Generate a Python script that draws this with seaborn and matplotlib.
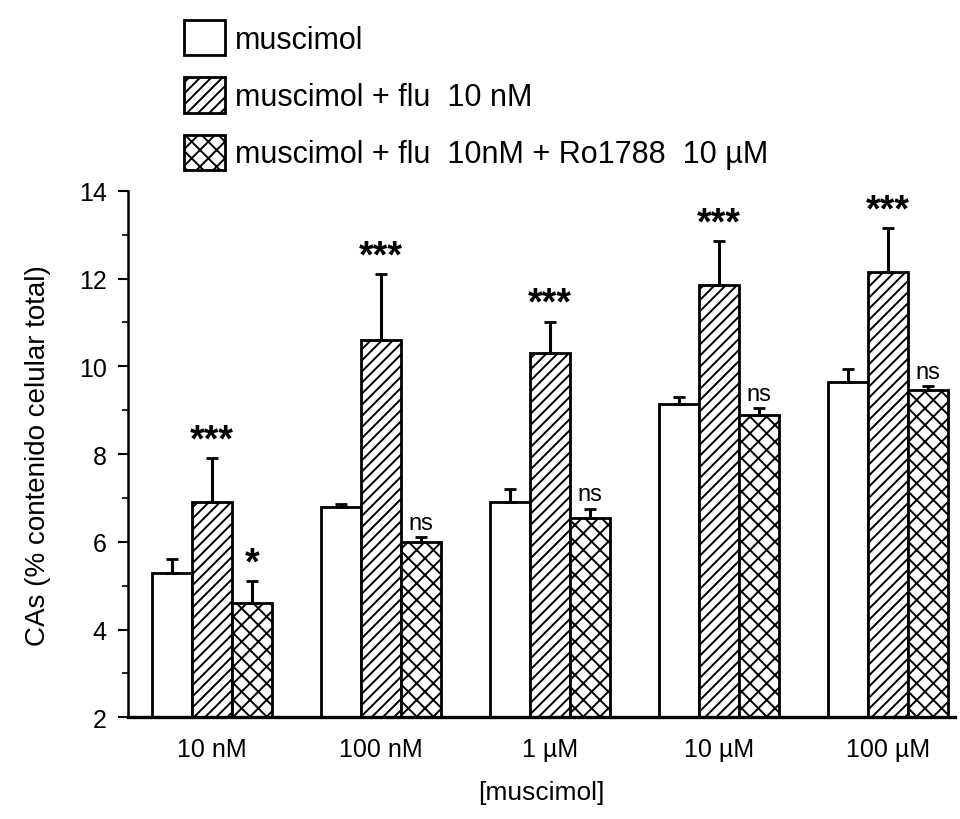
import pandas as pd
import matplotlib.pyplot as plt
import seaborn as sns
from matplotlib.patches import Patch
from matplotlib.ticker import MultipleLocator

doses = ['10 nM', '100 nM', '1 µM', '10 µM', '100 µM']
groups = ['muscimol', 'muscimol + flu  10 nM', 'muscimol + flu  10nM + Ro1788  10 µM']
musc = [5.3, 6.8, 6.9, 9.15, 9.65]
musc_err = [0.3, 0.06, 0.3, 0.15, 0.3]
flu = [6.9, 10.6, 10.3, 11.85, 12.15]
flu_err = [1.0, 1.5, 0.72, 1.0, 1.0]
ro = [4.6, 6.0, 6.55, 8.9, 9.45]
ro_err = [0.5, 0.1, 0.2, 0.15, 0.1]
sig_flu = ['***', '***', '***', '***', '***']
sig_ro = ['*', 'ns', 'ns', 'ns', 'ns']

df = pd.DataFrame({
    'dose': doses * 3,
    'group': [groups[0]] * 5 + [groups[1]] * 5 + [groups[2]] * 5,
    'val': musc + flu + ro,
    'err': musc_err + flu_err + ro_err,
})

sns.set_style('ticks')
plt.rcParams['font.family'] = ['Liberation Sans', 'DejaVu Sans']
plt.rcParams['hatch.linewidth'] = 1.4
for key in ['text.color', 'axes.labelcolor', 'xtick.color', 'ytick.color', 'axes.edgecolor']:
    plt.rcParams[key] = 'black'

fig = plt.figure(figsize=(9.6, 8.2), dpi=100)
ax = fig.add_axes([0.133, 0.124, 0.862, 0.642])

sns.barplot(data=df, x='dose', y='val', hue='group', palette=['white'] * 3,
            edgecolor='black', linewidth=2, errorbar=None, width=0.71,
            legend=False, ax=ax)

hatches = ['', '///', 'xx']
errs = [musc_err, flu_err, ro_err]
sigs = [None, sig_flu, sig_ro]
bar_conts = list(ax.containers)
for k, cont in enumerate(bar_conts):
    for j, bar in enumerate(cont.patches):
        bar.set_hatch(hatches[k])
        xc = bar.get_x() + bar.get_width() / 2
        top = bar.get_height()
        ax.errorbar(xc, top, yerr=[[0], [errs[k][j]]], color='black',
                    capsize=4, elinewidth=2.2, capthick=2, fmt='none')
        if sigs[k] is not None:
            s = sigs[k][j]
            ax.text(xc, top + errs[k][j] + (0.0 if s != 'ns' else 0.08), s,
                    ha='center', va='bottom',
                    fontsize=27 if s != 'ns' else 17,
                    fontweight='bold' if s != 'ns' else 'normal')

ax.set_ylim(2, 14)
ax.set_xlim(-0.5, 4.4)
ax.yaxis.set_major_locator(MultipleLocator(2))
ax.yaxis.set_minor_locator(MultipleLocator(1))
ax.tick_params(axis='y', which='major', labelsize=18, length=7, width=1.5, pad=8)
ax.tick_params(axis='y', which='minor', length=4, width=1.2)
ax.tick_params(axis='x', length=0, labelsize=18, pad=14)
sns.despine(ax=ax)
ax.spines['left'].set_linewidth(1.8)
ax.spines['bottom'].set_linewidth(2.4)
ax.set_xlabel('[muscimol]', fontsize=19, labelpad=14)
ax.set_ylabel('CAs (% contenido celular total)', fontsize=20, labelpad=20)

handles = [Patch(facecolor='white', edgecolor='black', hatch=h, linewidth=2) for h in hatches]
fig.legend(handles, groups, loc='upper left', bbox_to_anchor=(0.176, 0.993),
           frameon=False, fontsize=22, handlelength=1.35, handleheight=1.4,
           handletextpad=0.3, labelspacing=0.72, borderpad=0)

fig.savefig('out.png', dpi=100)
